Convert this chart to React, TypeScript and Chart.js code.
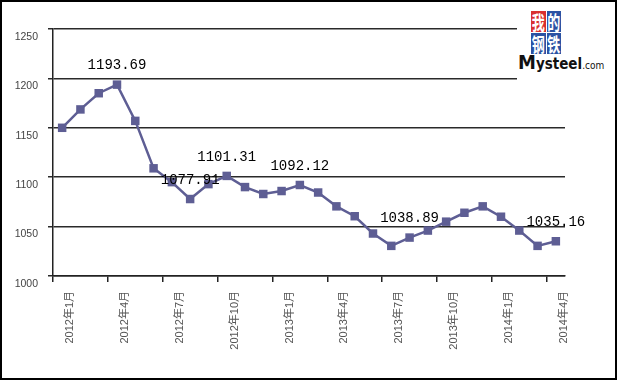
import React, { useEffect, useRef } from 'react';
import { Chart, registerables } from 'chart.js';

Chart.register(...registerables);

const categories = [
  '2012年1月', '2012年2月', '2012年3月', '2012年4月', '2012年5月', '2012年6月',
  '2012年7月', '2012年8月', '2012年9月', '2012年10月', '2012年11月', '2012年12月',
  '2013年1月', '2013年2月', '2013年3月', '2013年4月', '2013年5月', '2013年6月',
  '2013年7月', '2013年8月', '2013年9月', '2013年10月', '2013年11月', '2013年12月',
  '2014年1月', '2014年2月', '2014年3月', '2014年4月',
];

const prices = [
  1150, 1168.6, 1185, 1193.69, 1157, 1109,
  1095, 1077.91, 1093, 1101.31, 1090, 1083,
  1086, 1092.12, 1084.5, 1070.5, 1060.5, 1043,
  1030.5, 1038.89, 1046, 1055, 1064, 1070.5,
  1060, 1046, 1030.5, 1035.16,
];

const tickLabels = [
  '2012年1月', '2012年4月', '2012年7月', '2012年10月', '2013年1月',
  '2013年4月', '2013年7月', '2013年10月', '2014年1月', '2014年4月',
];

const annotatedMonths = ['2012年4月', '2012年8月', '2012年10月', '2013年2月', '2013年8月', '2014年4月'];

const yMin = 1000;
const yMax = 1250;
const yStep = 50;

const LINE_COLOR = '#5e5e94';

const valueLabelPlugin = {
  id: 'valueLabels',
  afterDatasetsDraw(chart: any) {
    const meta = chart.getDatasetMeta(0);
    const ctx = chart.ctx;
    ctx.save();
    ctx.font = '14px "Liberation Mono", "DejaVu Sans Mono", monospace';
    ctx.fillStyle = '#000';
    ctx.textAlign = 'center';
    ctx.textBaseline = 'middle';
    annotatedMonths.forEach((m) => {
      const i = categories.indexOf(m);
      const p = meta.data[i];
      if (!p) return;
      ctx.fillText(prices[i].toFixed(2), p.x, p.y - 19);
    });
    ctx.restore();
  },
};

export default function App() {
  const ref = useRef<HTMLCanvasElement>(null);

  useEffect(() => {
    document.body.style.margin = '0';
    const chart = new Chart(ref.current!, {
      type: 'line',
      data: {
        labels: categories,
        datasets: [
          {
            data: prices,
            borderColor: LINE_COLOR,
            backgroundColor: LINE_COLOR,
            borderWidth: 2.5,
            pointStyle: 'rect',
            pointRadius: 6,
            pointBorderWidth: 0,
            pointBackgroundColor: LINE_COLOR,
            tension: 0,
            fill: false,
          },
        ],
      },
      options: {
        responsive: false,
        devicePixelRatio: 1,
        animation: false,
        events: [],
        layout: { padding: { left: 0, top: 29, right: 53, bottom: 0 } },
        plugins: {
          legend: { display: false },
          tooltip: { enabled: false },
        },
        scales: {
          x: {
            type: 'category',
            offset: true,
            afterFit: (s: any) => {
              s.height = 105;
            },
            grid: {
              offset: true,
              drawOnChartArea: false,
              drawTicks: true,
              tickLength: 6,
              lineWidth: 1.5,
              color: (c: any) =>
                c.index !== undefined && tickLabels.includes(categories[c.index]) ? '#222' : 'rgba(0,0,0,0)',
            },
            border: { display: true, color: '#222', width: 1.5 },
            ticks: {
              autoSkip: false,
              maxRotation: 90,
              minRotation: 90,
              labelOffset: 8,
              padding: 9,
              color: '#555',
              font: { family: '"Liberation Sans", "Noto Sans CJK SC", sans-serif', size: 11 },
              callback: (_v: any, i: number) => (tickLabels.includes(categories[i]) ? categories[i] : ''),
            },
          },
          y: {
            min: yMin,
            max: yMax,
            afterFit: (s: any) => {
              s.width = 53;
            },
            grid: {
              color: '#2a2a2a',
              lineWidth: 1.5,
              tickLength: 5,
              drawTicks: true,
            },
            border: { display: true, color: '#222', width: 1.5 },
            ticks: {
              stepSize: yStep,
              padding: 10,
              labelOffset: 8,
              color: '#444',
              font: { family: '"Liberation Sans", sans-serif', size: 10.5 },
              callback: (v: any) => String(v),
            },
          },
        },
      },
      plugins: [valueLabelPlugin],
    } as any);
    return () => chart.destroy();
  }, []);

  const cell = (ch: string, bg: string) => (
    <div
      style={{
        width: 14.5,
        height: 21,
        background: bg,
        color: '#fff',
        display: 'flex',
        alignItems: 'center',
        justifyContent: 'center',
        overflow: 'hidden',
      }}
    >
      <span
        style={{
          fontFamily: '"Noto Sans CJK SC", sans-serif',
          fontWeight: 700,
          fontSize: 13,
          lineHeight: '13px',
          display: 'inline-block',
          transform: 'scale(1, 1.5)',
        }}
      >
        {ch}
      </span>
    </div>
  );

  return (
    <div style={{ position: 'relative', width: 618, height: 381, background: '#fff', overflow: 'hidden' }}>
      <canvas
        ref={ref}
        width={618}
        height={381}
        style={{ position: 'absolute', left: 0, top: 0, width: 618, height: 381 }}
      />
      <div style={{ position: 'absolute', left: 517, top: 4, width: 95, height: 76, background: '#fff' }}>
        <div style={{ position: 'absolute', left: 14, top: 7, display: 'grid', gridTemplateColumns: '14.5px 14.5px', gap: 1 }}>
          {cell('我', '#d93030')}
          {cell('的', '#2b52a3')}
          {cell('钢', '#2b52a3')}
          {cell('铁', '#2b52a3')}
        </div>
        <div
          style={{
            position: 'absolute',
            left: 1,
            top: 47,
            whiteSpace: 'nowrap',
            fontFamily: '"DejaVu Sans Condensed", "Liberation Sans", sans-serif',
            fontWeight: 700,
            color: '#111',
            lineHeight: '22px',
          }}
        >
          <span style={{ fontSize: 20 }}>M</span>
          <span style={{ fontSize: 15 }}>ysteel</span>
          <span style={{ fontSize: 10, fontWeight: 400 }}>.com</span>
        </div>
      </div>
      <div
        style={{
          position: 'absolute',
          left: 0,
          top: 0,
          width: 617,
          height: 380,
          border: '2px solid #000',
          boxSizing: 'border-box',
          pointerEvents: 'none',
        }}
      />
    </div>
  );
}
